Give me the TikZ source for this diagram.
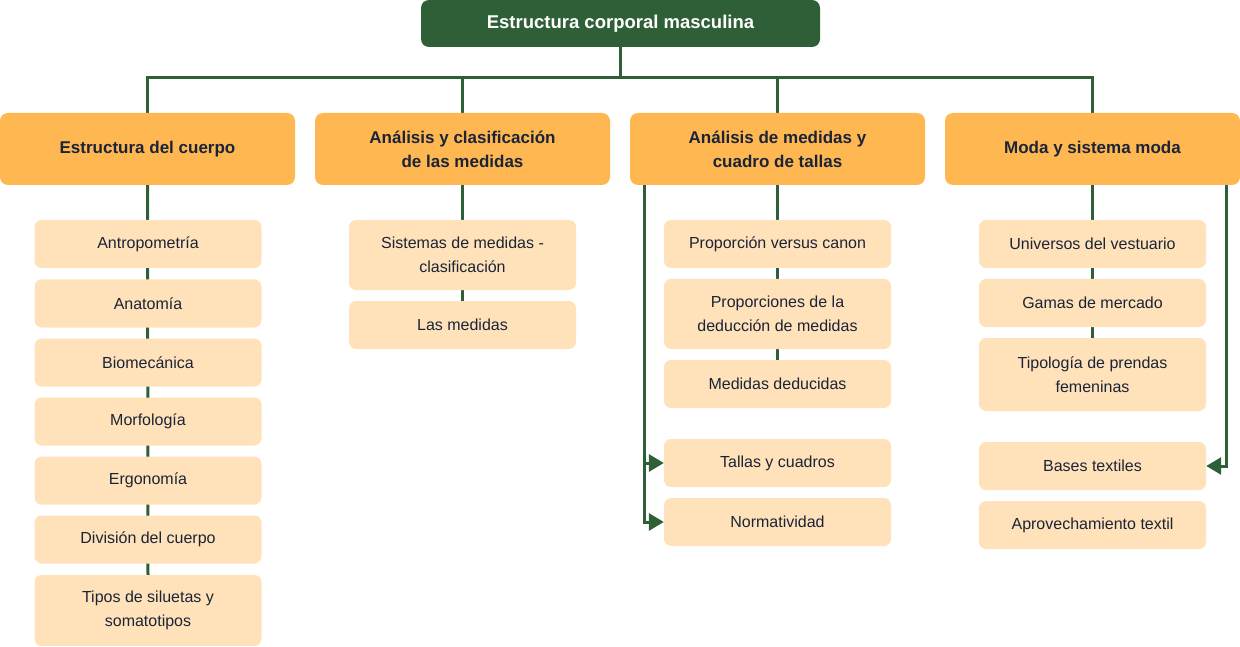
\documentclass[tikz,border=0pt]{standalone}
\usepackage{fontspec}
\setmainfont{Liberation Sans}
\usetikzlibrary{arrows.meta,backgrounds}
\definecolor{verde}{HTML}{2F5F36}
\definecolor{naranja}{HTML}{FFB752}
\definecolor{crema}{HTML}{FFE2BA}
\definecolor{tinta}{HTML}{1B2437}
\tikzset{
  raiz/.style={fill=verde, rounded corners=8pt, inner sep=2pt, minimum width=399pt,
    minimum height=47pt, text=white, font=\bfseries\fontsize{18.5}{24}\selectfont},
  tema/.style={fill=naranja, rounded corners=8pt, inner sep=2pt, minimum width=295pt,
    minimum height=72pt, text=tinta, align=center, font=\bfseries\fontsize{17}{24}\selectfont},
  sub/.style={fill=crema, rounded corners=7pt, inner sep=2pt, minimum width=227pt,
    minimum height=48pt, text=tinta, align=center, font=\fontsize{16}{24}\selectfont},
  linea/.style={draw=verde, line width=3pt},
  flecha/.style={linea, -{Triangle[length=15pt,width=17pt]}},
}
\begin{document}
\begin{tikzpicture}[x=1pt,y=-1pt]
  \useasboundingbox (0,0) rectangle (1240,647);
  \node[raiz] (root) at (620.5,23.5) {Estructura corporal masculina};
  \node[tema] (h1) at (147.5,149) {Estructura del cuerpo};
  \node[tema] (h2) at (462.5,149) {Análisis y clasificación\\de las medidas};
  \node[tema] (h3) at (777.5,149) {Análisis de medidas y\\cuadro de tallas};
  \node[tema] (h4) at (1092.5,149) {Moda y sistema moda};
  % estructura del cuerpo
  \node[sub] (c11) at (148,244) {Antropometría};
  \node[sub] (c12) at (148,303.5) {Anatomía};
  \node[sub] (c13) at (148,362.5) {Biomecánica};
  \node[sub] (c14) at (148,421.5) {Morfología};
  \node[sub] (c15) at (148,480.5) {Ergonomía};
  \node[sub] (c16) at (148,539.5) {División del cuerpo};
  \node[sub, minimum height=71pt] (c17) at (148,610.5) {Tipos de siluetas y\\somatotipos};
  % medidas
  \node[sub, minimum height=70pt] (c21) at (462.5,255) {Sistemas de medidas -\\clasificación};
  \node[sub] (c22) at (462.5,325) {Las medidas};
  % tallas
  \node[sub] (c31) at (777.5,244) {Proporción versus canon};
  \node[sub, minimum height=70pt] (c32) at (777.5,314) {Proporciones de la\\deducción de medidas};
  \node[sub] (c33) at (777.5,384) {Medidas deducidas};
  \node[sub] (c34) at (777.5,463) {Tallas y cuadros};
  \node[sub] (c35) at (777.5,522) {Normatividad};
  % moda
  \node[sub] (c41) at (1092.5,244) {Universos del vestuario};
  \node[sub] (c42) at (1092.5,303) {Gamas de mercado};
  \node[sub, minimum height=73pt] (c43) at (1092.5,374.5) {Tipología de prendas\\femeninas};
  \node[sub] (c44) at (1092.5,466) {Bases textiles};
  \node[sub] (c45) at (1092.5,525) {Aprovechamiento textil};
  \coordinate (bus) at (620.5,78);
  \begin{scope}[on background layer]
    \draw[linea] (root.south) -- (bus);
    \draw[linea] (h1.north) |- (bus) -| (h4.north);
    \draw[linea] (h2.north) -- (h2.north |- bus);
    \draw[linea] (h3.north) -- (h3.north |- bus);
    \draw[linea] (h1.south) -- (c17.north);
    \draw[linea] (h2.south) -- (c22.north);
    \draw[linea] (h3.south) -- (c33.north);
    \draw[linea] (h4.south) -- (c43.north);
  \end{scope}
  \draw[flecha] ([xshift=15pt]h3.south west) |- (c34.west);
  \draw[flecha] ([xshift=15pt]h3.south west) |- (c35.west);
  \draw[flecha] ([xshift=-14pt]h4.south east) |- (c44.east);
\end{tikzpicture}
\end{document}
